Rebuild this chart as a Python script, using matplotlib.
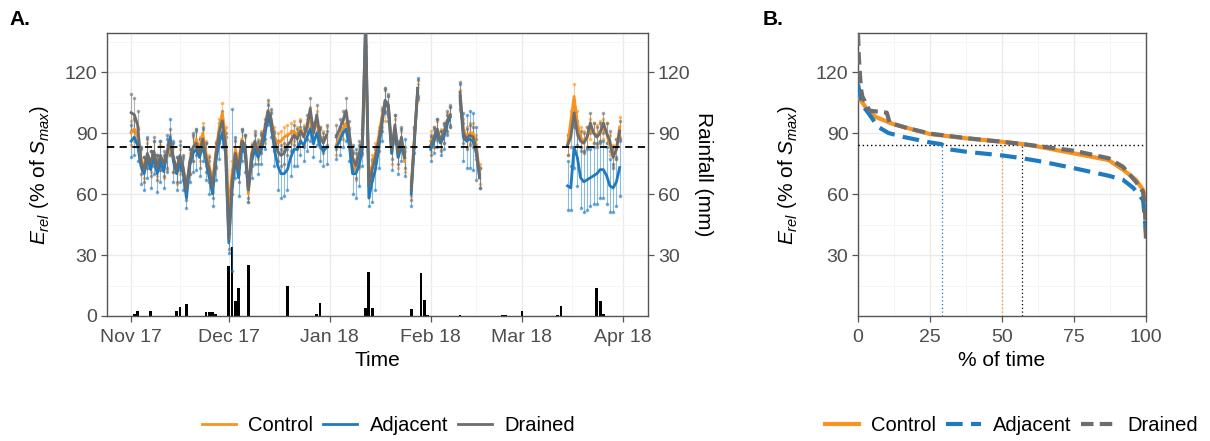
import numpy as np
import pandas as pd
import matplotlib
matplotlib.use('Agg')
import matplotlib.pyplot as plt
from matplotlib.lines import Line2D

plt.rcParams['font.family'] = ['Liberation Sans', 'DejaVu Sans']
plt.rcParams['mathtext.fontset'] = 'custom'
plt.rcParams['mathtext.rm'] = 'Liberation Sans'
plt.rcParams['mathtext.it'] = 'Liberation Sans:italic'

# ---- panel A: daily means, one list per continuous stretch of data ----
seg_start = ['2017-11-01', '2018-01-03', '2018-01-26', '2018-02-01', '2018-02-10', '2018-03-15']

control = [
    [90, 92, 88, 78, 73, 79, 76, 80, 74, 78, 73, 78, 84, 77, 70, 76, 72, 64, 75, 82, 87, 82, 90, 80, 74, 66, 80, 92, 100, 88,
     52, 70, 82, 75, 87, 83, 60, 80, 85, 82, 86, 90, 100, 96, 88, 85, 86, 88, 89, 90, 91, 88, 92, 89, 92, 98, 90, 96, 88, 86, 88],
    [84, 88, 92, 95, 88, 76, 72, 78, 84, 130, 68, 74, 80, 88, 98, 104, 103, 80, 92, 78, 86, 76],
    [64, 88, 110],
    [86, 88, 91, 87, 90, 95, 98],
    [106, 92, 88, 90, 90, 84, 70],
    [84, 96, 108, 95, 88, 86, 88, 92, 90, 89, 91, 92, 90, 84, 79, 82, 93],
]
adjacent = [
    [86, 88, 84, 74, 70, 78, 72, 78, 70, 76, 71, 80, 88, 76, 70, 75, 70, 58, 74, 80, 82, 78, 84, 76, 68, 60, 76, 85, 90, 80,
     36, 62, 78, 68, 84, 80, 62, 76, 82, 78, 82, 88, 99, 94, 82, 74, 70, 70, 72, 78, 82, 82, 86, 84, 88, 92, 85, 90, 84, 81, 83],
    [83, 86, 90, 92, 84, 70, 70, 74, 82, 145, 58, 66, 72, 82, 94, 106, 102, 80, 92, 78, 84, 78],
    [60, 86, 112],
    [82, 86, 90, 85, 88, 94, 98],
    [108, 88, 86, 87, 86, 80, 68],
    [64, 63, 83, 78, 68, 66, 67, 68, 69, 70, 72, 72, 69, 64, 63, 66, 73],
]
drained = [
    [100, 99, 94, 76, 72, 80, 75, 81, 73, 79, 75, 80, 86, 78, 72, 79, 73, 62, 76, 83, 85, 80, 87, 78, 72, 63, 79, 90, 96, 84,
     38, 66, 80, 72, 86, 84, 63, 79, 86, 80, 85, 92, 101, 97, 86, 81, 79, 80, 84, 86, 89, 87, 91, 88, 93, 102, 90, 99, 88, 85, 89],
    [88, 92, 96, 101, 90, 78, 74, 80, 86, 145, 64, 72, 78, 86, 96, 106, 104, 82, 94, 80, 88, 78],
    [62, 88, 112],
    [84, 88, 92, 86, 90, 96, 99],
    [110, 90, 87, 89, 88, 82, 68],
    [84, 88, 100, 90, 86, 85, 88, 95, 90, 88, 90, 95, 90, 86, 78, 82, 91],
]

# standard deviations
err_control = [
    [6, 6, 5, 5, 5, 6, 5, 6, 5, 6, 5, 6, 5, 6, 5, 6, 5, 5, 5, 6, 5, 6, 5, 6, 5, 5, 6, 5, 5, 5,
     6, 6, 5, 5, 5, 5, 4, 5, 5, 5, 5, 5, 5, 5, 5, 5, 5, 5, 5, 5, 5, 5, 5, 5, 5, 5, 5, 5, 5, 5, 5],
    [5, 5, 5, 5, 5, 5, 5, 5, 5, 3, 5, 5, 5, 5, 5, 8, 5, 5, 5, 5, 5, 5],
    [5, 5, 4],
    [5, 5, 5, 5, 5, 5, 5],
    [5, 5, 5, 5, 5, 5, 5],
    [5, 5, 6, 6, 5, 5, 5, 5, 5, 5, 5, 5, 5, 5, 5, 5, 5],
]
err_adjacent = [
    [8, 9, 8, 9, 8, 10, 9, 8, 9, 10, 8, 9, 9, 10, 8, 9, 8, 5, 8, 9, 10, 9, 8, 9, 8, 6, 9, 8, 7, 8,
     5, 40, 10, 9, 8, 9, 6, 8, 7, 8, 7, 6, 5, 6, 8, 12, 12, 11, 10, 9, 8, 8, 7, 8, 7, 6, 7, 6, 8, 7, 8],
    [6, 7, 7, 6, 8, 10, 12, 10, 8, 5, 4, 10, 10, 9, 8, 6, 6, 8, 7, 8, 8, 9],
    [6, 6, 5],
    [6, 6, 7, 6, 6, 5, 5],
    [6, 12, 13, 14, 14, 13, 5],
    [12, 11, 10, 14, 15, 15, 15, 14, 14, 15, 14, 14, 14, 13, 12, 12, 14],
]
err_drained = [
    [9, 8, 7, 6, 6, 7, 6, 7, 6, 7, 6, 7, 6, 7, 6, 7, 6, 5, 6, 7, 6, 7, 6, 7, 6, 5, 6, 5, 5, 6,
     5, 6, 6, 6, 5, 5, 5, 5, 5, 5, 5, 5, 5, 5, 5, 5, 5, 5, 5, 5, 5, 5, 5, 5, 6, 5, 5, 5, 5, 5, 5],
    [6, 5, 5, 6, 6, 6, 6, 6, 6, 3, 5, 5, 5, 5, 5, 5, 5, 5, 5, 5, 5, 5],
    [5, 5, 4],
    [5, 5, 5, 5, 5, 5, 5],
    [5, 5, 5, 5, 5, 5, 5],
    [5, 5, 6, 6, 5, 5, 5, 5, 5, 5, 5, 5, 5, 5, 5, 5, 5],
]

rain_dates = ['2017-11-02', '2017-11-03', '2017-11-07', '2017-11-15', '2017-11-16', '2017-11-18',
              '2017-11-24', '2017-11-25', '2017-11-26', '2017-11-27', '2017-12-01', '2017-12-02',
              '2017-12-03', '2017-12-04', '2017-12-07', '2017-12-19', '2017-12-28', '2017-12-29',
              '2018-01-12', '2018-01-13', '2018-01-14', '2018-01-26', '2018-01-29', '2018-01-30',
              '2018-01-31', '2018-02-10', '2018-02-23', '2018-02-24', '2018-03-01', '2018-03-12',
              '2018-03-13', '2018-03-24', '2018-03-25', '2018-03-26']
rain_mm = [0.8, 2.5, 2.5, 2.6, 4.6, 5.7,
           1.8, 1.8, 2.0, 1.0, 24.6, 34.0,
           7.5, 13.6, 25.0, 15.0, 1.0, 6.5,
           4.0, 21.8, 4.0, 3.6, 21.0, 7.9,
           0.5, 0.5, 0.6, 0.4, 2.5, 0.5,
           4.8, 14.0, 7.4, 0.8]

threshold_a = 83

# ---- panel B: duration curves ----
pct_control = [0, 1, 3, 6, 12, 17, 25, 37.5, 50, 57, 63, 75, 87, 92, 96.5, 99, 99.7, 100]
val_control = [108, 106, 102, 98, 94.5, 92.5, 89.5, 87.4, 85.7, 84.6, 83.2, 80, 76.7, 72, 67, 62, 57, 45]
pct_adjacent = [0, 1.4, 3.5, 7, 10.6, 16, 25, 29, 31.5, 37.5, 50, 57, 64, 75, 87, 92, 95.6, 99, 100]
val_adjacent = [114, 104, 100, 93, 90, 88, 85.4, 84.5, 82, 80.8, 79, 77.6, 75.9, 72.7, 69, 67, 63, 57, 41]
pct_drained = [0, 0.3, 1, 1.5, 4, 10, 11, 17, 25, 37.5, 50, 57, 63, 75, 87, 92, 96.5, 99, 99.7, 100]
val_drained = [139, 127, 112, 108, 101, 100, 95, 92.5, 89.7, 87.5, 85.7, 84.6, 83.5, 81.3, 77.6, 73.4, 66, 61, 50, 37]
threshold_b = 84
cross_pct = {'Control': 50, 'Adjacent': 29, 'Drained': 57}

names = ['Control', 'Adjacent', 'Drained']
colors = {'Control': '#F7931E', 'Adjacent': '#1F7BBF', 'Drained': '#6D6D6D'}
series = {'Control': (control, err_control), 'Adjacent': (adjacent, err_adjacent), 'Drained': (drained, err_drained)}

tick_col = '#4D4D4D'
grid_major = '#EBEBEB'
grid_minor = '#F4F4F4'
ylab = r'$E_{rel}\ \left(\mathrm{\%\ of\ }S_{max}\right)$'
TICK_FS = 14
TITLE_FS = 15


def style_axes(ax):
    ax.set_facecolor('white')
    for s in ax.spines.values():
        s.set_color('#555555')
        s.set_linewidth(1.0)
    ax.grid(True, which='major', color=grid_major, lw=1.0, zorder=0)
    ax.grid(True, which='minor', color=grid_minor, lw=0.6, zorder=0)
    ax.set_axisbelow(True)
    ax.tick_params(which='major', length=4, width=0.9, color='#555555', labelcolor=tick_col,
                   labelsize=TICK_FS, pad=3)
    ax.tick_params(axis='x', which='major', pad=5)
    ax.tick_params(which='minor', length=0)


fig = plt.figure(figsize=(12.1, 4.41), dpi=100)
axA = fig.add_axes([107 / 1210, 1 - 316 / 441, 541 / 1210, 283 / 441])
axB = fig.add_axes([858 / 1210, 1 - 316 / 441, 288 / 1210, 283 / 441])

# ---- A ----
rd = pd.to_datetime(rain_dates)
axA.bar(rd, rain_mm, width=0.85, color='black', zorder=2)

for nm in names:
    vals, errs = series[nm]
    for st, v, e in zip(seg_start, vals, errs):
        d = pd.date_range(st, periods=len(v), freq='D')
        v = np.array(v, float)
        e = np.array(e, float)
        axA.vlines(d, v - e, v + e, color=colors[nm], lw=0.8, alpha=0.5, zorder=3)
        axA.plot(d, v - e, 'o', color=colors[nm], ms=1.6, alpha=0.5, zorder=3)
        axA.plot(d, v + e, 'o', color=colors[nm], ms=1.6, alpha=0.5, zorder=3)
for nm in names:
    vals, errs = series[nm]
    for st, v in zip(seg_start, vals):
        d = pd.date_range(st, periods=len(v), freq='D')
        axA.plot(d, v, color=colors[nm], lw=2.0, zorder=4, solid_joinstyle='round')

axA.axhline(threshold_a, color='black', lw=1.3, ls=(0, (4, 3)), zorder=5)

x0 = pd.Timestamp('2017-11-01')
axA.set_xlim(x0 - pd.Timedelta(days=7.4), x0 + pd.Timedelta(days=158.7))
axA.set_ylim(0, 139.2)
months = pd.date_range('2017-11-01', '2018-04-01', freq='MS')
axA.set_xticks(months)
axA.set_xticklabels([m.strftime('%b %y') for m in months])
mids = [months[i] + (months[i + 1] - months[i]) / 2 for i in range(len(months) - 1)]
axA.set_xticks(mids, minor=True)
axA.set_yticks([0, 30, 60, 90, 120])
axA.set_yticks([15, 45, 75, 105, 135], minor=True)
style_axes(axA)
axA.set_xlabel('Time', fontsize=TITLE_FS, labelpad=4)
axA.set_ylabel(ylab, fontsize=TITLE_FS, labelpad=10)

axR = axA.twinx()
axR.set_ylim(axA.get_ylim())
axR.set_yticks([30, 60, 90, 120])
axR.tick_params(length=4, width=0.9, color='#555555', labelcolor=tick_col, labelsize=TICK_FS, pad=3)
for s in axR.spines.values():
    s.set_visible(False)
axR.set_ylabel('Rainfall (mm)', fontsize=TITLE_FS, rotation=270, labelpad=16)

# ---- B ----
axB.plot(pct_control, val_control, color=colors['Control'], lw=3.0, zorder=4)
axB.plot(pct_adjacent, val_adjacent, color=colors['Adjacent'], lw=3.0, ls=(0, (4, 2)), zorder=4)
axB.plot(pct_drained, val_drained, color=colors['Drained'], lw=3.0, ls=(0, (3, 1.5)), zorder=5)
axB.axhline(threshold_b, color='black', lw=1.0, ls=(0, (1, 2)), zorder=3)
for nm in names:
    c = 'black' if nm == 'Drained' else colors[nm]
    axB.vlines(cross_pct[nm], 0, threshold_b, color=c, lw=0.9, ls=(0, (1, 2)), zorder=3)
axB.set_xlim(0, 100)
axB.set_ylim(0, 139.2)
axB.set_xticks([0, 25, 50, 75, 100])
axB.set_xticks([12.5, 37.5, 62.5, 87.5], minor=True)
axB.set_yticks([30, 60, 90, 120])
axB.set_yticks([15, 45, 75, 105, 135], minor=True)
style_axes(axB)
axB.set_xlabel('% of time', fontsize=TITLE_FS, labelpad=4)
axB.set_ylabel(ylab, fontsize=TITLE_FS, labelpad=12)

fig.text(0.008, 0.955, 'A.', fontsize=15, fontweight='bold', va='center')
fig.text(0.630, 0.955, 'B.', fontsize=15, fontweight='bold', va='center')

# legends
hA = [Line2D([], [], color=colors[n], lw=2.0) for n in names]
fig.legend(hA, names, loc='center', bbox_to_anchor=(0.321, 0.036), ncol=3, frameon=False,
           fontsize=14.5, handlelength=1.7, handletextpad=0.6, columnspacing=0.5)
hB = [Line2D([], [], color=colors['Control'], lw=3.0),
      Line2D([], [], color=colors['Adjacent'], lw=3.0, ls=(0, (4, 2))),
      Line2D([], [], color=colors['Drained'], lw=3.0, ls=(0, (3, 1.5)))]
fig.legend(hB, names, loc='center', bbox_to_anchor=(0.836, 0.036), ncol=3, frameon=False,
           fontsize=14.5, handlelength=1.7, handletextpad=0.6, columnspacing=0.5)

fig.savefig('out.png', dpi=100)
